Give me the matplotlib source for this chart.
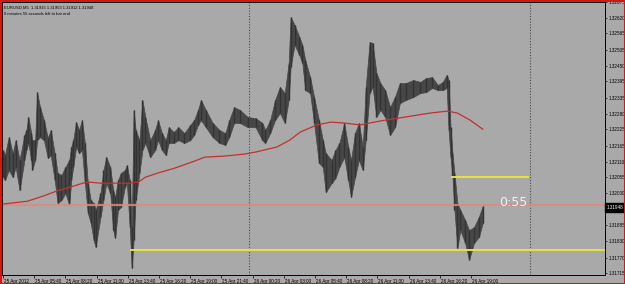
import numpy as np
import matplotlib
matplotlib.use('Agg')
import matplotlib.pyplot as plt
import matplotlib.transforms as mtransforms

plt.rcParams['font.family'] = ['Liberation Sans', 'DejaVu Sans']

# EURUSD M5, bar index counted from 25 Apr 2012 03:00
bars = [0, 2, 6, 10, 13, 17, 22, 24, 26, 29, 30, 33, 35, 38, 42, 46, 49, 53, 56, 60,
        64, 68, 70, 72, 75, 78, 81, 84, 87, 90, 93, 95, 100, 103, 106, 110, 113, 115, 118, 121,
        125, 127, 130, 132, 134, 136, 140, 143, 146, 151, 156, 159, 163, 167, 170, 175, 180, 186, 192, 196,
        200, 203, 208, 215, 222, 228, 232, 237, 243, 251, 259, 266, 269, 274, 279, 284, 289, 293, 295, 299,
        304, 307, 310, 315, 319, 324, 328, 331, 337, 341, 345, 350, 354, 357, 361, 365, 369, 372, 376, 379,
        383, 387, 392, 397, 402, 407, 413, 421, 428, 434, 440, 446, 451, 455, 457, 459, 461, 463, 466, 469,
        474, 478, 483, 488, 492]
highs = [1.32151, 1.32133, 1.32197, 1.32140, 1.32186, 1.32116, 1.32204, 1.32222, 1.32268, 1.32211,
         1.32186, 1.32186, 1.32356, 1.32303, 1.32257, 1.32194, 1.32222, 1.32140, 1.32070, 1.32063,
         1.32091, 1.32116, 1.32162, 1.32186, 1.32250, 1.32222, 1.32257, 1.32176, 1.32034, 1.31974,
         1.31963, 1.31939, 1.31999, 1.32080, 1.32126, 1.32091, 1.32009, 1.31985, 1.32045, 1.32070,
         1.32080, 1.32098, 1.32045, 1.31878, 1.32293, 1.32222, 1.32186, 1.32328, 1.32268, 1.32186,
         1.32222, 1.32257, 1.32211, 1.32186, 1.32232, 1.32215, 1.32232, 1.32211, 1.32240, 1.32257,
         1.32293, 1.32328, 1.32293, 1.32247, 1.32222, 1.32211, 1.32257, 1.32303, 1.32293, 1.32268,
         1.32264, 1.32247, 1.32222, 1.32257, 1.32328, 1.32374, 1.32353, 1.32459, 1.32622, 1.32594,
         1.32551, 1.32523, 1.32470, 1.32409, 1.32339, 1.32257, 1.32186, 1.32140, 1.32116, 1.32151,
         1.32176, 1.32247, 1.32162, 1.32116, 1.32211, 1.32247, 1.32162, 1.32374, 1.32533, 1.32530,
         1.32424, 1.32388, 1.32363, 1.32303, 1.32339, 1.32388, 1.32388, 1.32399, 1.32392, 1.32406,
         1.32409, 1.32381, 1.32392, 1.32417, 1.32399, 1.32232, 1.32140, 1.32070, 1.31963, 1.31939,
         1.31903, 1.31868, 1.31878, 1.31914, 1.31953]
lows = [1.32055, 1.32045, 1.32080, 1.32055, 1.32091, 1.32009, 1.32116, 1.32151, 1.32176, 1.32116,
        1.32080, 1.32116, 1.32186, 1.32197, 1.32186, 1.32123, 1.32133, 1.32045, 1.31963, 1.31974,
        1.31999, 1.31956, 1.32045, 1.32091, 1.32162, 1.32140, 1.32151, 1.32034, 1.31928, 1.31893,
        1.31832, 1.31808, 1.31914, 1.31974, 1.32034, 1.31999, 1.31868, 1.31840, 1.31939, 1.31949,
        1.32020, 1.32038, 1.31878, 1.31733, 1.31832, 1.31974, 1.32070, 1.32151, 1.32176, 1.32126,
        1.32151, 1.32186, 1.32151, 1.32133, 1.32176, 1.32176, 1.32186, 1.32176, 1.32186, 1.32204,
        1.32240, 1.32257, 1.32232, 1.32197, 1.32176, 1.32169, 1.32197, 1.32247, 1.32247, 1.32232,
        1.32232, 1.32186, 1.32176, 1.32211, 1.32257, 1.32282, 1.32247, 1.32328, 1.32445, 1.32523,
        1.32487, 1.32459, 1.32363, 1.32353, 1.32247, 1.32105, 1.32091, 1.32002, 1.32034, 1.32052,
        1.32091, 1.32126, 1.32045, 1.31985, 1.32055, 1.32116, 1.32080, 1.32186, 1.32353, 1.32374,
        1.32268, 1.32293, 1.32268, 1.32204, 1.32232, 1.32317, 1.32328, 1.32339, 1.32353, 1.32356,
        1.32371, 1.32363, 1.32363, 1.32371, 1.32222, 1.32126, 1.32055, 1.31939, 1.31804, 1.31868,
        1.31822, 1.31762, 1.31822, 1.31843, 1.31893]

ma_bars = [0, 25, 41, 55, 69, 82, 87, 100, 113, 130, 139, 146, 159, 176, 194, 207, 228, 248, 259, 281,
           294, 305, 322, 336, 349, 366, 387, 418, 438, 456, 466, 479, 492]
ma_vals = [1.31960, 1.31970, 1.31988, 1.32006, 1.32020, 1.32034, 1.32038, 1.32034, 1.32034, 1.32034,
           1.32038, 1.32055, 1.32070, 1.32087, 1.32109, 1.32126, 1.32130, 1.32137, 1.32144, 1.32162,
           1.32186, 1.32215, 1.32240, 1.32250, 1.32247, 1.32240, 1.32254, 1.32271, 1.32282, 1.32289,
           1.32282, 1.32257, 1.32225]

price_ticks = [1.32675, 1.32620, 1.32565, 1.32505, 1.32450, 1.32395, 1.32335, 1.32280, 1.32225,
               1.32165, 1.32110, 1.32055, 1.32000, 1.31885, 1.31830, 1.31770, 1.31715]
time_ticks = [0, 32, 64, 96, 128, 160, 192, 224, 256, 288, 320, 352, 384, 416, 448, 480]
time_labels = ['25 Apr 2012', '25 Apr 05:40', '25 Apr 08:20', '25 Apr 11:00', '25 Apr 13:40',
               '25 Apr 16:20', '25 Apr 19:00', '25 Apr 21:40', '26 Apr 00:20', '26 Apr 03:00',
               '26 Apr 05:40', '26 Apr 08:20', '26 Apr 11:00', '26 Apr 13:40', '26 Apr 16:20',
               '26 Apr 19:00']
day_seps = [252, 540]
bid = 1.31948
hline = 1.31957
yellow_low = (131, 617, 1.31796)
yellow_high = (461, 538, 1.32055)

bg = '#a9a9a9'
fig = plt.figure(figsize=(6.25, 2.84), dpi=100, facecolor=bg)
fig.patches.append(plt.Rectangle((0, 0), 1, 1, transform=fig.transFigure, fill=False,
                                 edgecolor='#d01818', linewidth=2.2))
ax = fig.add_axes([2/625, 9/284, 603/625, 273/284], facecolor=bg)

for b in day_seps:
    ax.axvline(b, color='#4a4a4a', lw=0.8, ls=(0, (1, 1.5)))

ax.fill_between(bars, lows, highs, color='#474747', lw=0.5, edgecolor='#474747')
ax.vlines(bars, lows, highs, color='#333333', lw=1.0)
ax.axhline(hline, color='#d88c7c', lw=1.6, alpha=0.85)
ax.plot(ma_bars, ma_vals, color='#c43030', lw=0.9)
ax.plot(yellow_low[:2], [yellow_low[2]] * 2, color='#e8e23a', lw=1.4)
ax.plot(yellow_high[:2], [yellow_high[2]] * 2, color='#e8e23a', lw=1.4)

ax.text(523, 1.31967, '0:55', color='#f2f2f2', fontsize=9, ha='center', va='center',
        family=['DejaVu Sans'])

ax.set_xlim(-1, 617.4)
ax.set_ylim(1.31709, 1.32675)

ax.yaxis.tick_right()
ax.set_yticks(price_ticks)
ax.set_yticklabels(['%.5f' % p for p in price_ticks], fontsize=3.3)
ax.tick_params(axis='y', direction='out', length=1.5, width=0.5, pad=0.8)
ax.set_xticks(time_ticks)
ax.set_xticklabels(time_labels, fontsize=3.3, ha='left')
ax.tick_params(axis='x', direction='out', length=2.5, width=0.5, pad=0.5)
for lbl in ax.get_xticklabels():
    lbl.set_transform(lbl.get_transform() + mtransforms.ScaledTranslation(1/100, 0, fig.dpi_scale_trans))
for s in ax.spines.values():
    s.set_linewidth(0.7)
    s.set_color('black')

trans = mtransforms.blended_transform_factory(ax.transAxes, ax.transData)
ax.text(1.002, bid, '%.5f' % bid, transform=trans, fontsize=3.3, color='white', va='center', ha='left',
        bbox=dict(boxstyle='square,pad=0.35', facecolor='black', edgecolor='black'))

ax.text(0.004, 0.988, 'EURUSD,M5  1.31915 1.31953 1.31912 1.31948', transform=ax.transAxes,
        fontsize=3.0, va='top', ha='left', color='black')
ax.text(0.004, 0.965, '0 minutes 55 seconds left to bar end', transform=ax.transAxes,
        fontsize=3.0, va='top', ha='left', color='black')

fig.savefig('out.png', dpi=100, facecolor=bg)
